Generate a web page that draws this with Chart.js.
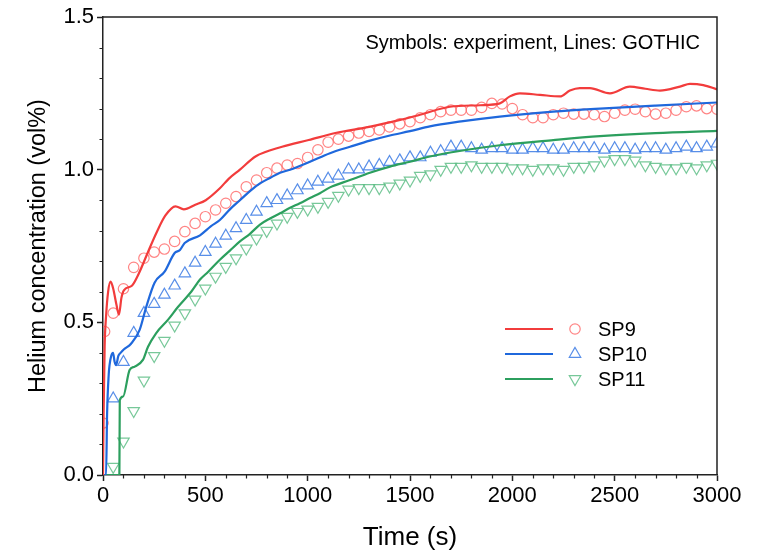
<!DOCTYPE html>
<html>
<head>
<meta charset="utf-8">
<script src="https://cdn.jsdelivr.net/npm/chart.js@4.4.1/dist/chart.umd.min.js"></script>
<style>
  html, body { margin: 0; padding: 0; background: #fff; }
</style>
</head>
<body>
<canvas id="chart" width="766" height="556"></canvas>
<script>
// experiment sample times (s)
const expTime = [50, 100, 150, 200, 250, 300, 350, 400, 450, 500, 550, 600, 650, 700, 750, 800, 850, 900, 950, 1000,
  1050, 1100, 1150, 1200, 1250, 1300, 1350, 1400, 1450, 1500, 1550, 1600, 1650, 1700, 1750, 1800, 1850, 1900, 1950, 2000,
  2050, 2100, 2150, 2200, 2250, 2300, 2350, 2400, 2450, 2500, 2550, 2600, 2650, 2700, 2750, 2800, 2850, 2900, 2950, 3000];

// SP9 has two extra early readings
const sp9EarlyTime = [0, 8];
const sp9EarlyExp = [0.17, 0.47];

const sp9Exp = [0.53, 0.61, 0.68, 0.71, 0.73, 0.74, 0.765, 0.797, 0.824, 0.846, 0.868, 0.89, 0.912, 0.944, 0.966, 0.99, 1.005, 1.015, 1.02, 1.04,
  1.065, 1.09, 1.10, 1.11, 1.12, 1.125, 1.13, 1.14, 1.15, 1.157, 1.17, 1.18, 1.19, 1.195, 1.195, 1.195, 1.204, 1.217, 1.215, 1.20,
  1.18, 1.17, 1.17, 1.18, 1.185, 1.182, 1.182, 1.18, 1.174, 1.185, 1.195, 1.198, 1.19, 1.182, 1.185, 1.195, 1.206, 1.209, 1.20, 1.198];

const sp10Exp = [0.25, 0.37, 0.465, 0.53, 0.56, 0.59, 0.62, 0.66, 0.695, 0.73, 0.757, 0.783, 0.808, 0.835, 0.862, 0.89, 0.90, 0.915, 0.932, 0.948,
  0.96, 0.97, 0.98, 1.0, 1.0, 1.01, 1.015, 1.025, 1.03, 1.04, 1.04, 1.055, 1.06, 1.075, 1.075, 1.07, 1.065, 1.07, 1.07, 1.065,
  1.065, 1.07, 1.07, 1.065, 1.065, 1.07, 1.07, 1.07, 1.065, 1.07, 1.07, 1.065, 1.07, 1.07, 1.065, 1.07, 1.075, 1.07, 1.075, 1.085];

const sp11Exp = [0.027, 0.11, 0.21, 0.31, 0.39, 0.44, 0.49, 0.53, 0.575, 0.611, 0.65, 0.682, 0.71, 0.742, 0.775, 0.80, 0.824, 0.846, 0.862, 0.87,
  0.879, 0.895, 0.915, 0.935, 0.94, 0.94, 0.94, 0.945, 0.955, 0.965, 0.98, 0.985, 1.0, 1.01, 1.01, 1.015, 1.01, 1.01, 1.01, 1.005,
  1.005, 1.0, 1.005, 1.005, 1.0, 1.01, 1.01, 1.015, 1.03, 1.035, 1.035, 1.03, 1.015, 1.01, 1.005, 1.005, 1.01, 1.005, 1.015, 1.02];

// GOTHIC results
const sp9LineTime = [0, 3, 8, 15, 25, 37, 50, 65, 78, 90, 102, 141, 175, 224, 263, 305, 354, 395, 451, 502, 571, 614, 669, 745, 875,
  1005, 1135, 1300, 1452, 1549, 1695, 1842, 1939, 1988, 2037, 2135, 2233, 2281, 2330, 2379, 2477, 2574, 2650, 2721, 2819, 2868, 2933, 3000];
const sp9Line = [0, 0.2, 0.42, 0.52, 0.6, 0.633, 0.61, 0.56, 0.525, 0.58, 0.605, 0.62, 0.66, 0.737, 0.796, 0.85, 0.88, 0.87, 0.885, 0.9, 0.939, 0.97, 1.0, 1.043, 1.075,
  1.097, 1.12, 1.14, 1.163, 1.18, 1.206, 1.211, 1.217, 1.24, 1.25, 1.245, 1.24, 1.259, 1.267, 1.267, 1.25, 1.272, 1.265, 1.259, 1.272, 1.281, 1.277, 1.263];

const sp10LineTime = [0, 15, 20, 28, 32, 40, 49, 57, 64, 75, 86, 100, 137, 179, 211, 252, 301, 350, 376, 399, 474, 528, 571, 620, 669, 718, 767,
  816, 865, 914, 1011, 1109, 1207, 1304, 1402, 1500, 1597, 1750, 1939, 2200, 2428, 2700, 3000];
const sp10Line = [0, 0, 0.2, 0.33, 0.36, 0.39, 0.4, 0.37, 0.36, 0.39, 0.4, 0.41, 0.43, 0.475, 0.55, 0.63, 0.666, 0.727, 0.737, 0.76, 0.785, 0.815, 0.835, 0.87, 0.9, 0.93, 0.955,
  0.973, 0.99, 1.0, 1.026, 1.054, 1.075, 1.095, 1.112, 1.126, 1.142, 1.158, 1.174, 1.19, 1.2, 1.21, 1.22];

const sp11LineTime = [0, 80, 82, 98, 130, 155, 195, 220, 260, 317, 366, 431, 474, 513, 571, 620, 669, 718, 767, 816, 865, 914, 962, 1011,
  1060, 1109, 1207, 1304, 1402, 1500, 1597, 1750, 1939, 2200, 2428, 2700, 3000];
const sp11Line = [0, 0, 0.245, 0.257, 0.344, 0.355, 0.377, 0.42, 0.465, 0.508, 0.55, 0.6, 0.64, 0.665, 0.705, 0.735, 0.765, 0.79, 0.82, 0.84, 0.857, 0.875, 0.89, 0.907,
  0.923, 0.942, 0.966, 0.99, 1.01, 1.026, 1.043, 1.062, 1.08, 1.097, 1.11, 1.12, 1.127];

const seriesNames = ["SP9", "SP10", "SP11"];
const xTicks = [0, 500, 1000, 1500, 2000, 2500, 3000];
const yTicks = [0.0, 0.5, 1.0, 1.5];

const lineColors = ["#f23c3c", "#1f68dc", "#2c9f5e"];
const markColors = ["rgba(255,110,110,0.85)", "rgba(70,130,230,0.9)", "rgba(95,190,135,0.85)"];
const markStyles = ["circle", "triangle", "triangle"];
const markRotation = [0, 0, 180];

const FONT = "'Liberation Sans', Arial, sans-serif";

function pairs(xs, ys) {
  return xs.map((x, i) => ({ x: x, y: ys[i] }));
}

const lineSets = [
  [sp9LineTime, sp9Line],
  [sp10LineTime, sp10Line],
  [sp11LineTime, sp11Line]
];
const expSets = [
  pairs(sp9EarlyTime, sp9EarlyExp).concat(pairs(expTime, sp9Exp)),
  pairs(expTime, sp10Exp),
  pairs(expTime, sp11Exp)
];

const datasets = [];
lineSets.forEach((s, i) => {
  datasets.push({
    label: seriesNames[i] + " GOTHIC",
    data: pairs(s[0], s[1]),
    showLine: true,
    borderColor: lineColors[i],
    borderWidth: 2.2,
    pointRadius: 0,
    cubicInterpolationMode: "monotone"
  });
});
expSets.forEach((d, i) => {
  datasets.push({
    label: seriesNames[i] + " experiment",
    data: d,
    showLine: false,
    pointStyle: markStyles[i],
    rotation: markRotation[i],
    pointRadius: i === 0 ? 5.2 : 6.6,
    borderColor: markColors[i],
    backgroundColor: "rgba(0,0,0,0)",
    borderWidth: 1.2
  });
});

// frame, minor ticks, legend and note
const decorations = {
  id: "decorations",
  afterDraw(chart) {
    const ctx = chart.ctx;
    const a = chart.chartArea;
    const xs = chart.scales.x;
    const ys = chart.scales.y;
    ctx.save();
    ctx.strokeStyle = "#222";
    ctx.lineWidth = 1.5;
    ctx.beginPath();
    ctx.moveTo(a.left, a.top);
    ctx.lineTo(a.right, a.top);
    ctx.lineTo(a.right, a.bottom);
    ctx.stroke();

    ctx.lineWidth = 1.2;
    ctx.beginPath();
    for (let t = 100; t < 3000; t += 100) {
      if (t % 500 === 0) continue;
      const px = Math.round(xs.getPixelForValue(t)) + 0.5;
      ctx.moveTo(px, a.bottom);
      ctx.lineTo(px, a.bottom + 3.5);
    }
    for (let k = 1; k < 15; k++) {
      if (k % 5 === 0) continue;
      const py = Math.round(ys.getPixelForValue(k / 10)) + 0.5;
      ctx.moveTo(a.left, py);
      ctx.lineTo(a.left - 3.5, py);
    }
    ctx.stroke();

    // note
    ctx.fillStyle = "#000";
    ctx.font = "20px " + FONT;
    ctx.textAlign = "right";
    ctx.textBaseline = "middle";
    ctx.fillText("Symbols: experiment, Lines: GOTHIC", 700, 43);

    // legend
    const rows = [329, 354, 379];
    ctx.textAlign = "left";
    ctx.font = "20px " + FONT;
    rows.forEach((y, i) => {
      ctx.strokeStyle = lineColors[i];
      ctx.lineWidth = 2.2;
      ctx.beginPath();
      ctx.moveTo(505, y);
      ctx.lineTo(553, y);
      ctx.stroke();
      ctx.strokeStyle = markColors[i];
      ctx.lineWidth = 1.2;
      const cx = 575;
      ctx.beginPath();
      if (i === 0) {
        ctx.arc(cx, y, 5.2, 0, Math.PI * 2);
      } else {
        const r = 6.6;
        const dir = i === 1 ? -1 : 1;
        ctx.moveTo(cx, y + dir * r);
        ctx.lineTo(cx - r * 0.866, y - dir * r / 2);
        ctx.lineTo(cx + r * 0.866, y - dir * r / 2);
        ctx.closePath();
      }
      ctx.stroke();
      ctx.fillStyle = "#000";
      ctx.fillText(seriesNames[i], 598, y + 1);
    });
    ctx.restore();
  }
};

new Chart(document.getElementById("chart"), {
  type: "scatter",
  data: { datasets: datasets },
  options: {
    responsive: false,
    animation: false,
    layout: { padding: { top: 17, right: 49, left: 0, bottom: 0 } },
    plugins: { legend: { display: false }, tooltip: { enabled: false } },
    scales: {
      x: {
        type: "linear",
        min: 0,
        max: 3000,
        afterFit(s) { s.height = 81; },
        afterBuildTicks(s) { s.ticks = xTicks.map(v => ({ value: v })); },
        ticks: { color: "#000", font: { family: FONT, size: 22 }, padding: 2, maxRotation: 0, autoSkip: false, callback: v => String(v) },
        grid: { drawOnChartArea: false, tickLength: 6, tickColor: "#222", tickWidth: 1.5 },
        border: { color: "#222", width: 1.5 },
        title: { display: true, text: "Time (s)", color: "#000", font: { family: FONT, size: 26 }, padding: { top: 0, bottom: 3 } }
      },
      y: {
        type: "linear",
        min: 0,
        max: 1.5,
        afterFit(s) { s.width = 103; },
        afterBuildTicks(s) { s.ticks = yTicks.map(v => ({ value: v })); },
        ticks: { color: "#000", font: { family: FONT, size: 22 }, padding: 3, callback: v => v.toFixed(1) },
        grid: { drawOnChartArea: false, tickLength: 6, tickColor: "#222", tickWidth: 1.5 },
        border: { color: "#222", width: 1.5 },
        title: { display: true, text: "Helium concentration (vol%)", color: "#000", font: { family: FONT, size: 23.5 }, padding: { top: 24, bottom: 0 } }
      }
    }
  },
  plugins: [decorations]
});
</script>
</body>
</html>
